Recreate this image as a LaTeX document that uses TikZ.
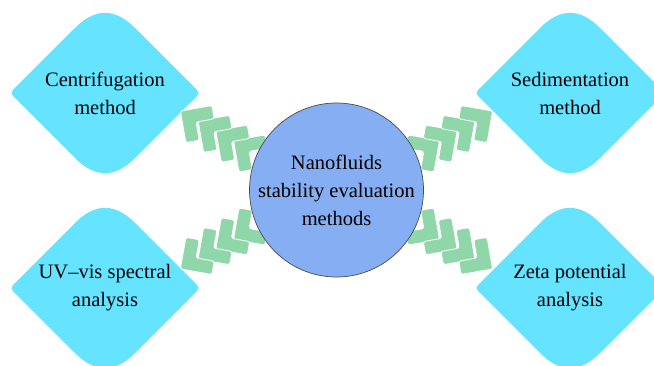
\documentclass[tikz,border=0pt]{standalone}
\usepackage{fontspec}
\setmainfont{Liberation Serif}
\usetikzlibrary{calc}
\definecolor{diafill}{HTML}{66E3FF}
\definecolor{circfill}{HTML}{86AEF2}
\definecolor{chevfill}{HTML}{8FD6A9}
\begin{document}
\begin{tikzpicture}[x=1pt,y=1pt,
  lbl/.style={align=center,font=\fontsize{20.5}{28}\selectfont,inner sep=0pt,text=black},
  circ/.style={circle,fill=circfill,draw=black!70,line width=0.7pt,minimum size=174pt,inner sep=0pt},
  diam/.pic={\fill[diafill] (-92,3) -- (-29.7,65.3) .. controls (-9.9,85.1) and (9.9,85.1) .. (29.7,65.3) -- (92,3) .. controls (94,1) and (94,-1) .. (92,-3) -- (29.7,-65.3) .. controls (9.9,-85.1) and (-9.9,-85.1) .. (-29.7,-65.3) -- (-92,-3) .. controls (-94,-1) and (-94,1) .. (-92,3) -- cycle;},
  chev/.pic={\fill[chevfill,draw=white,line width=0.8pt,rounded corners=2.2pt] (0,0) -- (32,0) -- (32,13.5) -- (13.5,13.5) -- (13.5,32) -- (0,32) -- cycle;}]
\useasboundingbox (0,0) rectangle (654,365);
\fill[white] (0,0) rectangle (654,365);
\clip (0,0) rectangle (654,365);
% diamonds
\pic at (105,272) {diam};
\pic at (570,272) {diam};
\pic at (105,77) {diam};
\pic at (570,77) {diam};
\node[lbl] (cent) at (105,272) {Centrifugation\\method};
\node[lbl] (sed) at (570,272) {Sedimentation\\method};
\node[lbl] (uv) at (105,77) {UV–vis spectral\\analysis};
\node[lbl] (zeta) at (570,77) {Zeta potential\\analysis};
% chevrons
\coordinate (cc) at (336.5,175);
\foreach \i in {0,...,3} {
  \pic[rotate=-80] at ($(cc)+(-103-17.7*\i,49.5+9.8*\i)$) {chev};
  \pic[rotate=-190] at ($(cc)+(103+17.7*\i,49.5+9.8*\i)$) {chev};
  \pic[rotate=-10] at ($(cc)+(-103-17.7*\i,-49.5-9.8*\i)$) {chev};
  \pic[rotate=100] at ($(cc)+(103+17.7*\i,-49.5-9.8*\i)$) {chev};
}
% centre
\node[circ,lbl] (c) at (cc) {Nanofluids\\stability evaluation\\methods};
\end{tikzpicture}
\end{document}
